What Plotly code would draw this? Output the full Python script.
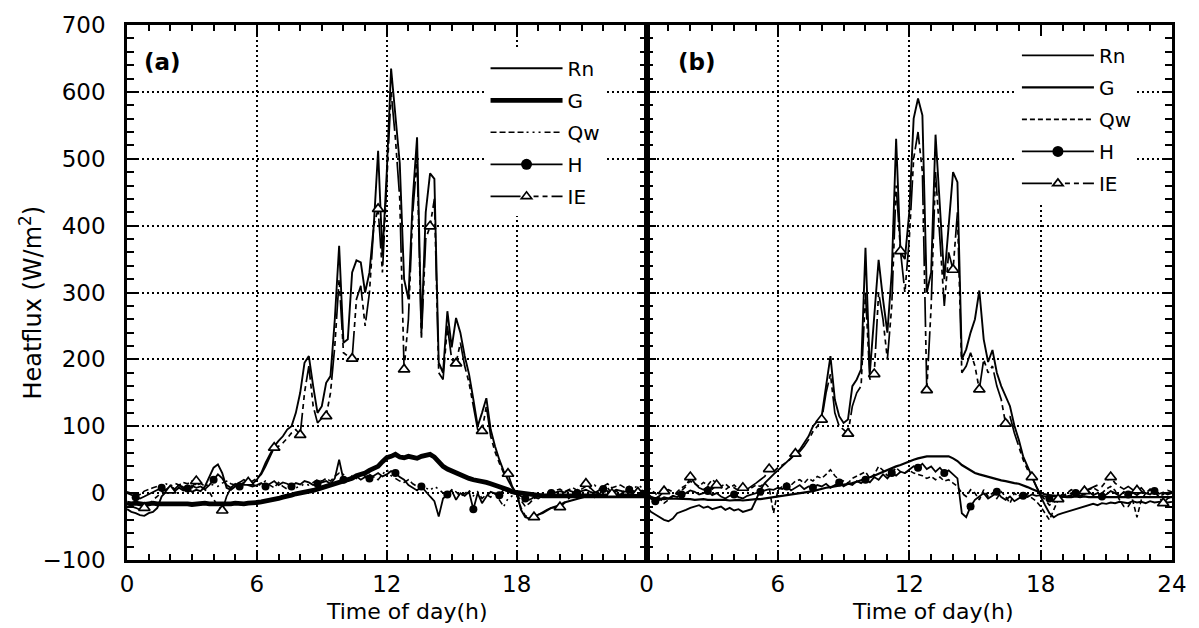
import plotly.graph_objects as go

# time of day (h), 12-minute samples
hours = [round(0.2 * k, 1) for k in range(121)]

x_tickvals = [0, 6, 12, 18, 24]
x_ticktext_a = ["0", "6", "12", "18", ""]
x_ticktext_b = ["0", "6", "12", "18", "24"]
y_tickvals = [-100, 0, 100, 200, 300, 400, 500, 600, 700]
series_names = ["Rn", "G", "Qw", "H", "IE"]

# ---------------- panel (a) ----------------
rn_a = [-24, -28, -30, -33, -34, -30, -28, -22, -5, 2,
        5, 3, 8, 4, 6, 2, 5, 3, 10, 25,
        38, 43, 30, 8, 5, 10, 12, 15, 18, 14,
        20, 30, 45, 58, 70, 78, 85, 95, 100, 120,
        150, 195, 205, 160, 120, 130, 165, 175, 260, 370,
        225, 230, 330, 348, 345, 300, 330, 400, 512, 355,
        480, 635, 560, 493, 320, 290, 440, 532, 240, 420,
        478, 470, 195, 180, 272, 218, 262, 240, 205, 178,
        140, 100, 120, 142, 95, 70, 50, 33, 20, 8,
        0, -25, -36, -38, -36, -32, -30, -26, -22, -20,
        -18, -14, -12, -10, -8, -6, -5, -4, -6, -4,
        -3, -5, -4, -3, -4, -5, -3, -4, -5, -4,
        -3]
g_a = [-15, -16, -15, -16, -17, -16, -15, -16, -16, -15,
       -16, -16, -15, -16, -16, -17, -16, -16, -15, -16,
       -16, -17, -17, -16, -16, -15, -16, -16, -15, -15,
       -14, -13, -12, -11, -10, -8, -6, -5, -3, -1,
       0, 2, 3, 4, 6, 8, 9, 11, 13, 15,
       17, 19, 22, 26, 28, 30, 34, 37, 40, 47,
       53, 55, 58, 54, 53, 55, 53, 52, 55, 57,
       58, 54, 47, 40, 36, 33, 31, 28, 24, 22,
       20, 19, 18, 16, 14, 12, 9, 7, 5, 2,
       1, 0, -1, -2, -3, -3, -4, -4, -4, -5,
       -4, -4, -5, -4, -4, -4, -5, -4, -4, -4,
       -5, -4, -4, -4, -5, -4, -4, -4, -5, -4,
       -4]
qw_a = [2, 0, -4, -2, 3, 6, 8, 10, 12, 14,
        10, 15, 12, 16, 14, 18, 12, 15, 10, 14,
        12, 10, 15, 18, 14, 12, 16, 20, 15, 12,
        10, 14, 18, 12, 8, 16, 10, 6, 12, 8,
        10, 14, 12, 16, 20, 18, 22, 18, 25, 30,
        28, 20, 26, 22, 30, 25, 28, 24, 20, 28,
        35, 26, 22, 18, 16, 20, 14, 10, 12, 8,
        4, 10, 6, 0, -2, 5, 2, -5, 0, 4,
        -4, 2, -8, -2, -6, 0, -10, -20, -8, -4,
        -2, -12, -20, -15, -8, -4, 0, 2, -2, 4,
        6, 2, 5, 8, 4, 6, 10, 8, 12, 6,
        10, 14, 8, 10, 12, 8, 10, 6, 12, 8,
        10]
h_a = [0, -3, -6, -8, -5, -2, 2, 4, 8, 5,
       10, 6, 12, 9, 7, 11, 8, 10, 6, 12,
       20, 28, 22, 12, 8, 14, 10, 16, 12, 10,
       12, 15, 10, 14, 18, 12, 16, 14, 10, 15,
       13, 18, 16, 12, 14, 15, 18, 14, 22, 50,
       20, 18, 22, 25, 20, 24, 22, 26, 30, 25,
       28, 33, 30, 24, 20, 12, 8, 4, 10, 2,
       -5, -12, -35, -8, -2, 4, -10, 0, -4, 2,
       -24, 0, -15, -5, 2, 0, -3, 5, 2, 0,
       -2, -5, -8, -10, -6, -8, -4, -2, 0, 2,
       3, 1, 4, 2, 0, 3, 5, 2, 0, 4,
       6, 3, 2, 5, 4, 2, 5, 3, 1, 4,
       2]
le_a = [-15, -20, -22, -25, -22, -18, -10, -5, 2, 5,
        4, 8, 12, 6, 10, 8, 18, 10, 5, 2,
        -10, -20, -26, -5, 8, 12, 15, 20, 16, 18,
        22, 28, 40, 55, 68, 70, 75, 82, 90, 95,
        87, 150, 190, 130, 105, 112, 115, 150, 220, 320,
        210, 205, 201, 290, 310, 250, 300, 400, 425, 330,
        470, 600, 530, 440, 185, 260, 420, 500, 230, 380,
        399, 440, 180, 170, 250, 200, 194, 225, 190, 165,
        130, 95, 93, 130, 85, 62, 45, 30, 29, 10,
        -2, -22, -34, -36, -36, -32, -28, -25, -22, -21,
        -21, -15, -8, -2, 5, 10, 14, 8, 2, -2,
        5, 8, -1, 3, -2, 4, 2, -1, 1, 3,
        0]

# ---------------- panel (b) ----------------
rn_b = [-20, -28, -32, -36, -40, -42, -38, -30, -28, -25,
        -22, -20, -18, -22, -20, -24, -22, -20, -25, -22,
        -26, -24, -28, -26, -24, -10, 5, 15, 22, 28,
        34, 40, 46, 52, 58, 65, 75, 85, 100, 108,
        115, 160, 205, 140, 115, 105, 110, 160, 170, 185,
        367, 180, 260, 349, 290, 240, 330, 530, 360, 350,
        420, 560, 590, 565, 300, 330, 536, 420, 320, 400,
        480, 465, 200, 215, 240, 260, 303, 230, 196, 214,
        180, 160, 145, 130, 101, 80, 55, 40, 25, 8,
        -5, -18, -30, -36, -32, -30, -28, -26, -24, -22,
        -20, -18, -16, -18, -15, -16, -14, -15, -13, -14,
        -15, -12, -14, -13, -15, -12, -14, -13, -12, -14,
        -13]
g_b = [-6, -7, -8, -8, -9, -8, -8, -9, -9, -8,
       -9, -10, -9, -9, -10, -10, -9, -10, -10, -11,
       -10, -10, -11, -10, -10, -9, -9, -8, -8, -7,
       -6, -5, -4, -3, -2, 0, 1, 2, 3, 5,
       7, 8, 9, 10, 11, 12, 14, 15, 17, 19,
       21, 23, 26, 29, 32, 35, 38, 40, 42, 45,
       47, 50, 52, 54, 55, 55, 55, 54, 54, 55,
       52, 48, 42, 38, 34, 30, 28, 26, 24, 22,
       21, 19, 18, 16, 15, 14, 12, 9, 6, 3,
       0, -2, -3, -4, -5, -5, -6, -6, -5, -6,
       -5, -6, -6, -5, -6, -6, -5, -6, -5, -6,
       -6, -5, -6, -5, -6, -6, -5, -6, -5, -6,
       -6]
qw_b = [10, 5, 0, -8, -15, -10, -5, 2, 8, 12,
        18, 14, 10, 16, 12, 20, 15, 10, 14, 8,
        12, 6, 10, 4, 8, 12, 10, 15, 8, -30,
        5, 10, 15, 12, 18, 20, 15, 22, 18, 25,
        22, 28, 35, 26, 20, 18, 15, 22, 25, 28,
        32, 22, 28, 40, 34, 26, 30, 38, 32, 30,
        34, 30, 28, 26, 22, 25, 20, 24, 18, 20,
        15, 10, 0, -5, 5, 0, -10, 5, -5, 0,
        -8, 2, -5, -15, 0, -5, 2, -3, -8, -12,
        -20, -30, -40, -25, -10, -5, 0, 5, 2, -5,
        0, 5, 8, 4, 0, 6, 10, 4, -10, -20,
        -20, -10, -36, -10, 0, 5, 2, -5, -2, 4,
        2]
h_b = [-5, -8, -12, -10, -6, -8, -4, -6, -2, 0,
       4, 2, -2, 0, 3, -3, 0, -5, -8, -4,
       -2, -6, -8, -4, -2, 0, 2, 4, 6, 5,
       8, 6, 10, 4, 8, 12, 6, 10, 8, 12,
       10, 14, 8, 12, 16, 10, 14, 12, 18, 15,
       20, 16, 24, 20, 28, 22, 30, 26, 32, 30,
       35, 40, 38, 44, 36, 40, 32, 38, 30, 34,
       28, 22, -30, -36, -20, -10, -5, 0, -8, -4,
       2, -6, -10, -5, -12, -8, -4, -6, -2, -4,
       -3, -5, -8, -4, -6, -2, -5, -3, 0, -4,
       -2, 2, -3, 0, -5, -2, 3, 0, -4, 2,
       -2, 1, -3, 2, 0, -2, 3, -1, 1, -2,
       0]
le_b = [0, -5, -8, -4, 3, 5, 2, -2, 4, 10,
        24, 15, 8, 5, 10, 6, 12, 8, 5, 10,
        8, 4, 8, 6, 10, 15, 20, 25, 36, 32,
        38, 42, 46, 52, 59, 62, 70, 80, 92, 100,
        110, 150, 178, 120, 100, 95, 89, 130, 150, 160,
        300, 170, 178, 300, 260, 200, 280, 460, 362, 300,
        380, 500, 540, 480, 154, 280, 480, 380, 280, 360,
        334, 420, 180, 190, 210, 190, 155, 200, 180, 190,
        160, 140, 104, 115, 90, 70, 50, 35, 24, 10,
        -2, -10, -18, -14, -9, -6, -4, 0, 2, 0,
        3, 5, 8, 12, 10, 18, 24, 15, 10, 6,
        10, 5, 4, 8, 0, 6, 2, -5, -15, -8,
        -5]

FONT = "DejaVu Sans"
LE_DASH = "30px,4px,5px,4px,5px,4px,5px,4px"

fig = go.Figure()


def add_panel(xa, ya, leg, tag, rn, g, qw, h, le, g_width, qw_dash):
    common = dict(xaxis=xa, yaxis=ya, legend=leg)
    fig.add_trace(go.Scatter(x=hours, y=rn, mode="lines", name=series_names[0],
                             legendgroup=tag + "rn",
                             line=dict(color="black", width=1.9), **common))
    fig.add_trace(go.Scatter(x=hours, y=g, mode="lines", name=series_names[1],
                             legendgroup=tag + "g",
                             line=dict(color="black", width=g_width), **common))
    fig.add_trace(go.Scatter(x=hours, y=qw, mode="lines", name=series_names[2],
                             legendgroup=tag + "qw",
                             line=dict(color="black", width=1.6, dash=qw_dash), **common))
    # H : line + filled circles
    fig.add_trace(go.Scatter(x=hours, y=h, mode="lines", showlegend=False,
                             legendgroup=tag + "h",
                             line=dict(color="black", width=1.8), **common))
    fig.add_trace(go.Scatter(x=hours[2::6], y=h[2::6], mode="markers", showlegend=False,
                             legendgroup=tag + "h",
                             marker=dict(symbol="circle", size=8, color="black"), **common))
    fig.add_trace(go.Scatter(x=[None], y=[None], mode="lines+markers", name=series_names[3],
                             legendgroup=tag + "h",
                             line=dict(color="black", width=1.8),
                             marker=dict(symbol="circle", size=11, color="black"), **common))
    # IE : line + open triangles
    fig.add_trace(go.Scatter(x=hours, y=le, mode="lines", showlegend=False,
                             legendgroup=tag + "le",
                             line=dict(color="black", width=1.7, dash=LE_DASH), **common))
    fig.add_trace(go.Scatter(x=hours[4::6], y=le[4::6], mode="markers", showlegend=False,
                             legendgroup=tag + "le",
                             marker=dict(symbol="triangle-up", size=10, color="white",
                                         line=dict(color="black", width=1.7)), **common))
    fig.add_trace(go.Scatter(x=[None], y=[None], mode="lines+markers", name=series_names[4],
                             legendgroup=tag + "le",
                             line=dict(color="black", width=1.7, dash=LE_DASH),
                             marker=dict(symbol="triangle-up", size=9, color="white",
                                         line=dict(color="black", width=1.7)), **common))


add_panel("x", "y", "legend", "a", rn_a, g_a, qw_a, h_a, le_a, 4.8,
          "6px,3px,6px,3px,6px,3px,6px,3px,2px,4px,2px,4px,2px,4px")
add_panel("x2", "y2", "legend2", "b", rn_b, g_b, qw_b, h_b, le_b, 2.2, "5px,3px")

split = 526 / 1058

axis_style = dict(
    showline=True, linecolor="black", linewidth=2.5, mirror="allticks",
    ticks="inside", ticklen=10, tickwidth=2, tickcolor="black",
    showgrid=True, gridcolor="black", gridwidth=1.6, griddash="2px,3px",
    zeroline=False, tickfont=dict(family=FONT, size=23, color="black"),
)
xmin = dict(dtick=1, tick0=0, ticks="inside", ticklen=6, tickwidth=1.8,
            tickcolor="black", showgrid=False)
ymin = dict(dtick=20, tick0=0, ticks="inside", ticklen=7, tickwidth=1.8,
            tickcolor="black", showgrid=False)

legend_common = dict(xanchor="left", yanchor="top", bgcolor="white", borderwidth=0,
                     itemwidth=72, tracegroupgap=3, traceorder="grouped",
                     font=dict(family=FONT, size=20, color="black"))

fig.update_layout(
    width=1199, height=628,
    margin=dict(l=127, r=14, t=20, b=68),
    paper_bgcolor="white", plot_bgcolor="white",
    font=dict(family=FONT, color="black"),
    xaxis=dict(domain=[0, split], range=[0, 24], tickvals=x_tickvals,
               ticktext=x_ticktext_a, anchor="y", minor=xmin,
               ticklabelstandoff=2, ticklabeloverflow="allow", **axis_style),
    yaxis=dict(range=[-100, 700], tickvals=y_tickvals, anchor="x", minor=ymin,
               ticklabelstandoff=14, **axis_style),
    xaxis2=dict(domain=[split, 1], range=[0, 24], tickvals=x_tickvals,
                ticktext=x_ticktext_b, anchor="y2", minor=xmin,
                ticklabelstandoff=2, ticklabeloverflow="allow", **axis_style),
    yaxis2=dict(range=[-100, 700], tickvals=y_tickvals, anchor="x2", minor=ymin,
                showticklabels=False, **axis_style),
    legend=dict(x=(490 - 127) / 1058, y=(560 - 44) / 540, **legend_common),
    legend2=dict(x=(1028 - 127) / 1058, y=(560 - 31) / 540, **legend_common),
    showlegend=True,
)

annos = [
    dict(text="(a)", x=163, y=57, font=dict(size=23, family=FONT), bold=True),
    dict(text="(b)", x=704, y=57, font=dict(size=23, family=FONT), bold=True),
    dict(text="Time of day(h)", x=410, y=612, font=dict(size=22, family=FONT)),
    dict(text="Time of day(h)", x=943, y=612, font=dict(size=22, family=FONT)),
]
for a in annos:
    txt = "<b>" + a["text"] + "</b>" if a.get("bold") else a["text"]
    fig.add_annotation(text=txt, xref="paper", yref="paper",
                       x=(a["x"] - 127) / 1058, y=(560 - a["y"]) / 540,
                       xanchor="center", yanchor="middle", showarrow=False,
                       font=dict(color="black", **a["font"]))
fig.add_annotation(text="Heatflux (W/m<sup>2</sup>)", xref="paper", yref="paper",
                   x=(30 - 127) / 1058, y=(560 - 300) / 540, textangle=-90,
                   xanchor="center", yanchor="middle", showarrow=False,
                   font=dict(family=FONT, size=24, color="black"))

fig.write_html("out.html")
